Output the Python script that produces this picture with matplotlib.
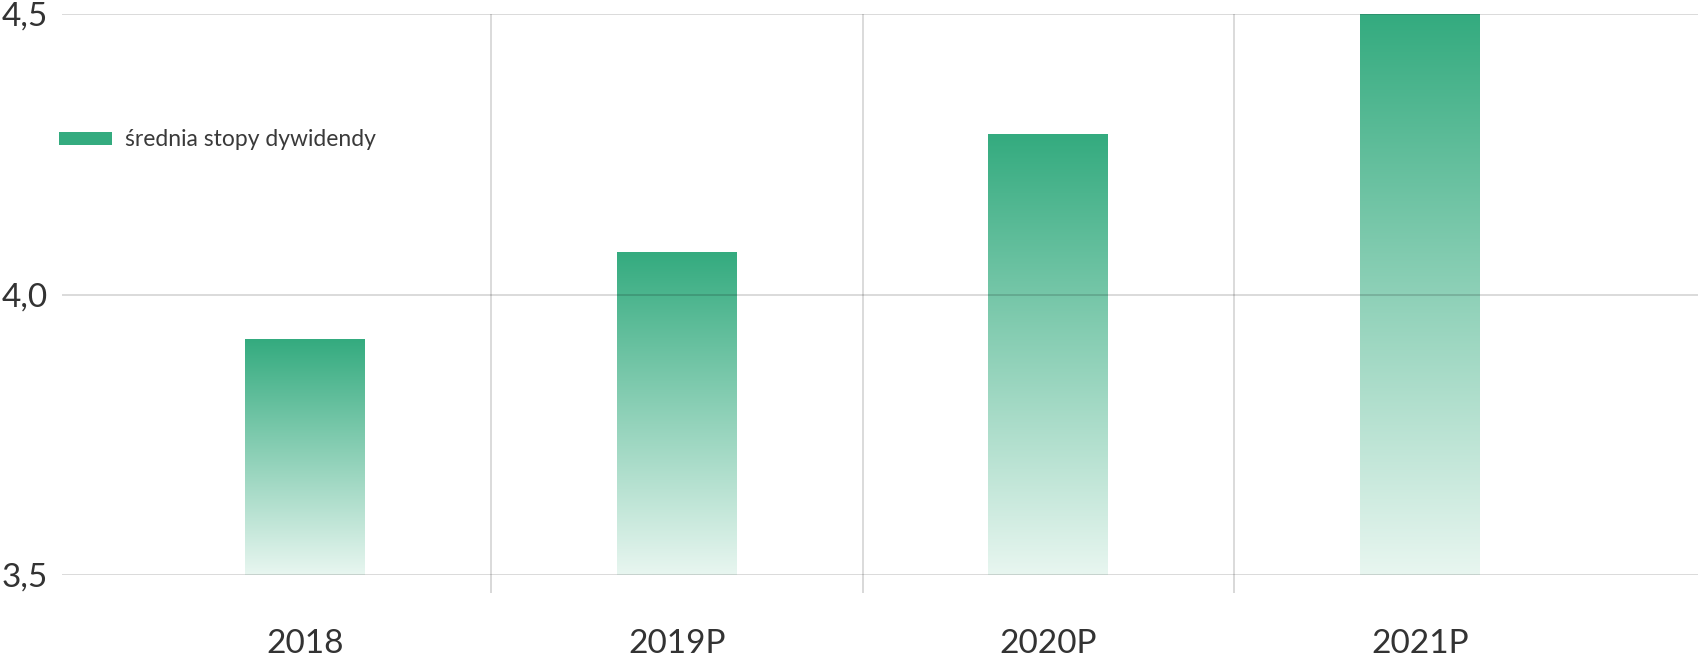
import numpy as np
import matplotlib
matplotlib.use("Agg")
import matplotlib.pyplot as plt
import matplotlib.ticker as ticker
from matplotlib.colors import LinearSegmentedColormap
from matplotlib.patches import Patch

plt.rcParams['font.family'] = ['Lato', 'DejaVu Sans']

# データ
categories = ['2018', '2019P', '2020P', '2021P']
values = [3.92, 4.075, 4.285, 4.50]
series_name = 'średnia stopy dywidendy'
y_ticks = [3.5, 4.0, 4.5]
base = 3.5

# 色
top_color = '#34AB7F'
bottom_color = '#E8F6F0'
text_color = '#333333'
cmap = LinearSegmentedColormap.from_list('grad', [bottom_color, top_color])

# プロット領域
fig = plt.figure(figsize=(16.98, 6.57), dpi=100)
ax = fig.add_axes([62 / 1698, 1 - 575 / 657, 1 - 62 / 1698, (575 - 14) / 657])

x = np.arange(len(categories))
heights = [v - base for v in values]
bars = ax.bar(x, heights, bottom=base, width=0.323, color='none', zorder=2)

# グラデーション
grad = np.linspace(0, 1, 256).reshape(-1, 1)
for b in bars:
    x0, y0 = b.get_x(), b.get_y()
    ax.imshow(grad, cmap=cmap, origin='lower', aspect='auto', zorder=2,
              extent=(x0, x0 + b.get_width(), y0, y0 + b.get_height()))

# 範囲
ax.set_xlim(-0.6554, 3.7486)
ax.set_ylim(3.5, 4.5)

# 目盛り
ax.set_xticks(x)
ax.set_xticklabels(categories)
ax.set_xticks(x[:-1] + 0.5, minor=True)
ax.set_yticks(y_ticks)
ax.yaxis.set_major_formatter(ticker.FuncFormatter(lambda v, p: f'{v:.1f}'.replace('.', ',')))
ax.tick_params(axis='x', which='major', length=0, pad=39, labelsize=24, labelcolor=text_color)
ax.tick_params(axis='x', which='minor', length=13, width=1.2, color='#D2D2D2', direction='out')
ax.tick_params(axis='y', length=0, pad=10, labelsize=24, labelcolor=text_color)

# グリッド (バーの上に半透明)
ax.set_axisbelow(False)
ax.grid(axis='y', color='black', alpha=0.17, linewidth=1.2, zorder=3)
ax.grid(axis='x', which='minor', color='black', alpha=0.17, linewidth=1.2, zorder=3)
for s in ax.spines.values():
    s.set_visible(False)

# 凡例
handle = Patch(facecolor=top_color, edgecolor='none', label=series_name)
fig.legend(handles=[handle], loc='center left', bbox_to_anchor=(59 / 1698, 1 - 140 / 657),
           frameon=False, fontsize=16.5, labelcolor='#3a3a3a', borderpad=0, borderaxespad=0,
           handlelength=2.3, handleheight=0.48, handletextpad=0.6)

fig.savefig('out.png', dpi=100, facecolor='white')
